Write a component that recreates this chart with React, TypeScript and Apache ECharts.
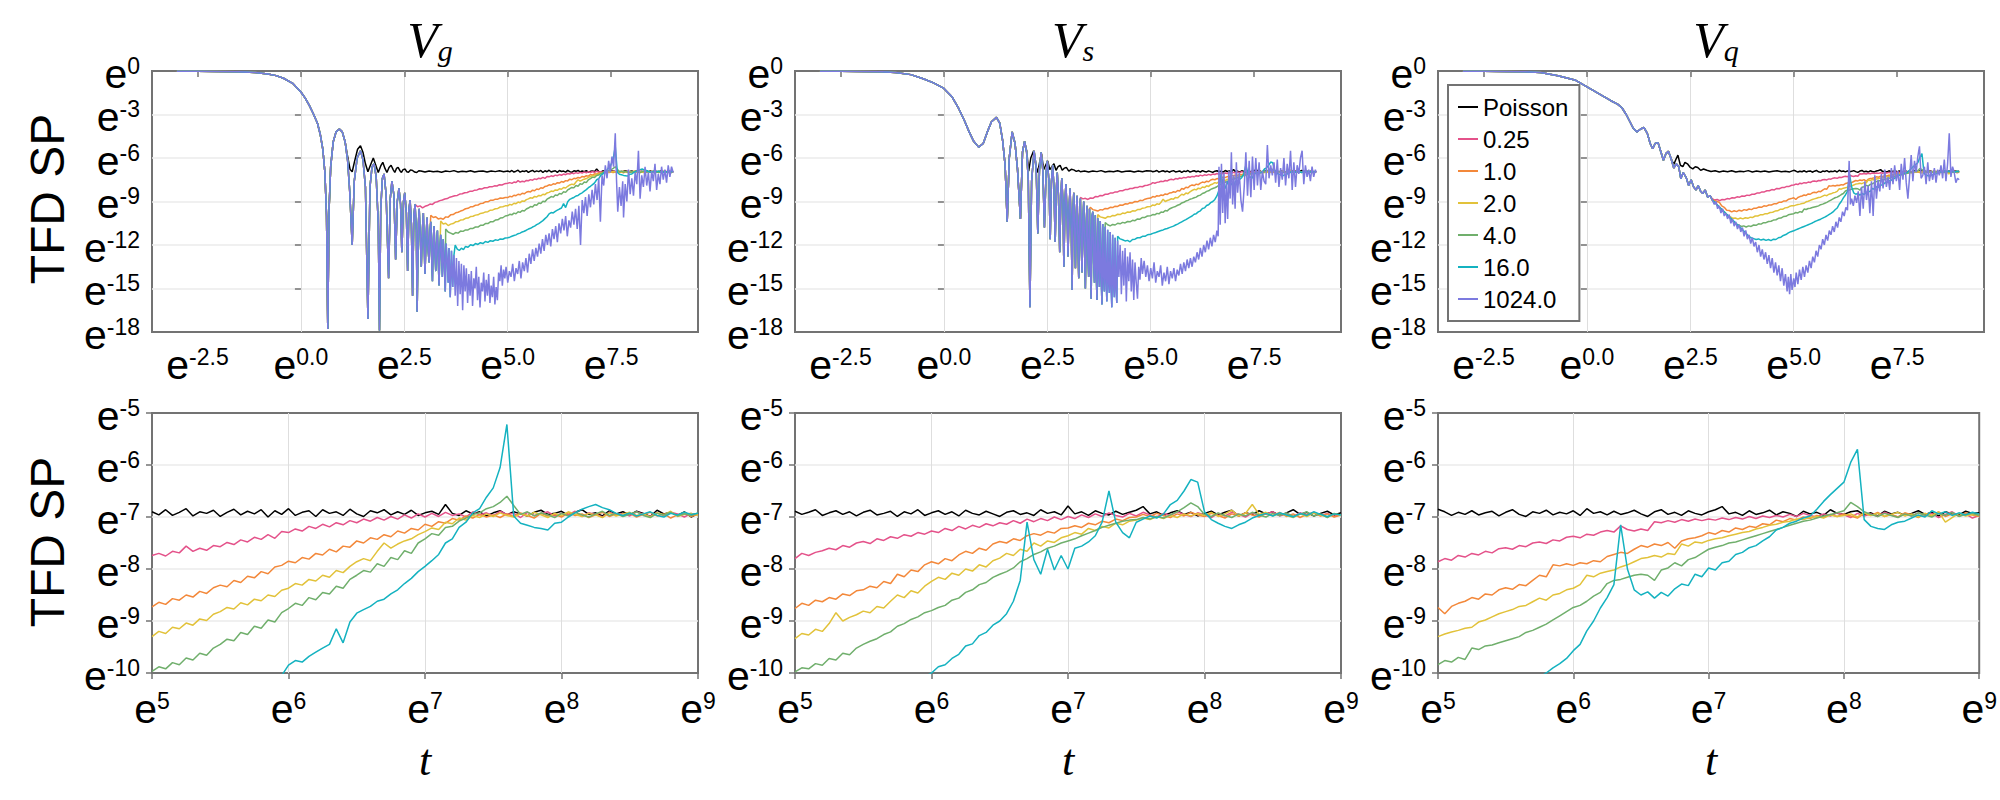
import React, { useEffect, useRef } from 'react';
import * as echarts from 'echarts';

const NAMES = ['Poisson', '0.25', '1.0', '2.0', '4.0', '16.0', '1024.0'];
const COLORS = ['#000000', '#E4528A', '#F3883A', '#E2C23A', '#70AF6C', '#14B2C0', '#7C7ADF'];
const TITLES = ['g', 's', 'q'];
const TOP_X_TICKS = [-2.5, 0, 2.5, 5, 7.5];

// shared x positions (ln t) of the zoomed bottom row
const XB = [5, 5.05, 5.1, 5.15, 5.2, 5.25, 5.3, 5.35, 5.4, 5.45,
  5.5, 5.55, 5.6, 5.65, 5.7, 5.75, 5.8, 5.85, 5.9, 5.95,
  6, 6.05, 6.1, 6.15, 6.2, 6.25, 6.3, 6.35, 6.4, 6.45,
  6.5, 6.55, 6.6, 6.65, 6.7, 6.75, 6.8, 6.85, 6.9, 6.95,
  7, 7.05, 7.1, 7.15, 7.2, 7.25, 7.3, 7.35, 7.4, 7.45,
  7.5, 7.55, 7.6, 7.65, 7.7, 7.75, 7.8, 7.85, 7.9, 7.95,
  8, 8.05, 8.1, 8.15, 8.2, 8.25, 8.3, 8.35, 8.4, 8.45,
  8.5, 8.55, 8.6, 8.65, 8.7, 8.75, 8.8, 8.85, 8.9, 8.95,
  9];

// ---------------- V_g, x >= 5 (ln TFD SP) ----------------
const gBlackB = [-6.90, -6.96, -6.86, -6.97, -6.91, -6.84, -6.98, -6.90, -6.93, -6.87,
  -6.99, -6.91, -6.85, -6.96, -6.89, -6.94, -6.86, -7.00, -6.88, -6.95,
  -6.84, -6.97, -6.91, -6.88, -6.99, -6.86, -6.93, -6.90, -6.97, -6.85,
  -6.94, -6.99, -6.88, -6.92, -6.86, -6.96, -6.90, -6.95, -6.87, -6.97,
  -6.92, -6.89, -6.95, -6.76, -6.93, -6.97, -6.88, -6.94, -6.90, -6.98,
  -6.92, -6.88, -6.96, -6.90, -6.94, -6.98, -6.91, -6.87, -6.95, -6.93,
  -6.89, -6.97, -6.91, -6.86, -6.95, -6.92, -6.98, -6.88, -6.94, -6.90,
  -6.96, -6.89, -6.93, -6.99, -6.87, -6.94, -6.91, -6.97, -6.90, -7.00,
  -6.93];
const gPinkB = [-7.74, -7.70, -7.75, -7.66, -7.69, -7.56, -7.66, -7.60, -7.64, -7.55,
  -7.57, -7.49, -7.53, -7.44, -7.48, -7.39, -7.43, -7.34, -7.41, -7.28,
  -7.30, -7.23, -7.27, -7.18, -7.22, -7.14, -7.19, -7.11, -7.15, -7.07,
  -7.11, -7.04, -7.08, -7.01, -7.06, -6.99, -7.04, -6.96, -7.02, -6.94,
  -7.00, -6.93, -6.99, -6.91, -6.97, -6.94, -7.00, -6.90, -6.96, -6.92,
  -6.98, -6.89, -6.95, -6.93, -7.01, -6.91, -6.97, -6.94, -6.90, -6.98,
  -6.93, -6.96, -6.89, -6.99, -6.92, -6.95, -7.00, -6.91, -6.96, -6.93,
  -6.98, -6.90, -6.95, -6.99, -6.92, -6.97, -6.91, -6.94, -7.00, -6.93,
  -6.96];
const gOrangeB = [-8.73, -8.64, -8.68, -8.57, -8.60, -8.50, -8.54, -8.43, -8.47, -8.36,
  -8.31, -8.34, -8.22, -8.26, -8.14, -8.17, -8.05, -8.09, -7.96, -7.93,
  -7.85, -7.88, -7.78, -7.81, -7.70, -7.73, -7.62, -7.67, -7.56, -7.58,
  -7.46, -7.50, -7.40, -7.43, -7.34, -7.38, -7.27, -7.31, -7.22, -7.25,
  -7.14, -7.18, -7.09, -7.12, -7.03, -7.06, -6.98, -7.02, -6.95, -7.00,
  -6.96, -7.01, -6.94, -6.99, -6.92, -6.97, -7.02, -6.93, -6.98, -6.95,
  -7.00, -6.92, -6.97, -6.94, -7.01, -6.96, -6.91, -6.99, -6.94, -6.98,
  -6.93, -7.00, -6.95, -6.91, -6.98, -6.94, -7.02, -6.96, -6.92, -6.99,
  -6.95];
const gYellowB = [-9.30, -9.20, -9.24, -9.12, -9.15, -9.04, -9.08, -8.96, -8.99, -8.87,
  -8.82, -8.74, -8.77, -8.65, -8.69, -8.58, -8.61, -8.50, -8.53, -8.41,
  -8.37, -8.28, -8.31, -8.20, -8.23, -8.12, -8.16, -8.03, -8.07, -7.95,
  -7.86, -7.80, -7.84, -7.66, -7.50, -7.60, -7.52, -7.46, -7.42, -7.34,
  -7.28, -7.21, -7.24, -7.10, -7.13, -7.02, -7.06, -6.97, -7.01, -6.94,
  -6.99, -6.92, -6.97, -7.00, -6.94, -6.98, -6.91, -6.96, -7.01, -6.93,
  -6.97, -6.90, -6.95, -6.99, -6.93, -6.96, -7.01, -6.92, -6.98, -6.94,
  -6.91, -6.97, -6.94, -7.00, -6.92, -6.96, -6.89, -6.99, -6.95, -6.93,
  -6.97];
const gGreenB = [-9.97, -9.88, -9.92, -9.80, -9.84, -9.71, -9.75, -9.62, -9.66, -9.52,
  -9.45, -9.35, -9.38, -9.22, -9.26, -9.10, -9.14, -8.98, -9.02, -8.84,
  -8.76, -8.66, -8.70, -8.55, -8.59, -8.45, -8.48, -8.33, -8.37, -8.20,
  -8.12, -8.03, -8.06, -7.90, -7.95, -7.78, -7.82, -7.65, -7.70, -7.50,
  -7.42, -7.32, -7.35, -7.20, -7.18, -7.08, -7.02, -6.95, -6.92, -6.84,
  -6.80, -6.72, -6.60, -6.78, -6.95, -6.90, -6.98, -6.92, -6.96, -7.01,
  -6.93, -6.98, -6.91, -6.96, -7.00, -6.94, -6.89, -6.97, -6.93, -6.99,
  -6.95, -6.90, -6.97, -7.01, -6.93, -6.96, -6.91, -6.98, -6.94, -6.97,
  -6.92];
const gCyanB = [-11.50, -11.46, -11.40, -11.35, -11.30, -11.22, -11.18, -11.10, -11.05, -10.98,
  -10.90, -10.85, -10.76, -10.70, -10.60, -10.52, -10.42, -10.32, -10.18, -10.05,
  -9.85, -9.76, -9.79, -9.68, -9.60, -9.52, -9.45, -9.15, -9.42, -9.02,
  -8.85, -8.78, -8.72, -8.62, -8.58, -8.48, -8.40, -8.28, -8.18, -8.05,
  -7.95, -7.84, -7.72, -7.50, -7.42, -7.20, -7.10, -6.92, -6.84, -6.62,
  -6.44, -6.05, -5.22, -6.98, -7.12, -7.16, -7.20, -7.22, -7.25, -7.12,
  -7.10, -7.00, -6.92, -6.85, -6.80, -6.76, -6.82, -6.86, -6.93, -6.97,
  -6.92, -6.98, -6.94, -6.90, -6.97, -7.00, -6.93, -6.96, -6.91, -6.95,
  -6.93];

// ---------------- V_s, x >= 5 ----------------
const sBlackB = [-6.89, -6.95, -6.91, -6.86, -6.97, -6.92, -6.88, -6.95, -6.90, -6.98,
  -6.91, -6.87, -6.96, -6.93, -6.89, -6.99, -6.90, -6.94, -6.86, -6.97,
  -6.92, -6.88, -6.95, -6.90, -6.98, -6.87, -6.93, -6.96, -6.89, -6.94,
  -6.99, -6.91, -6.88, -6.95, -6.92, -6.97, -6.86, -6.93, -6.90, -6.96,
  -6.79, -6.94, -6.90, -6.97, -6.88, -6.93, -6.96, -6.89, -6.95, -6.91,
  -6.87, -6.80, -6.94, -6.90, -6.97, -6.92, -6.88, -6.95, -6.91, -6.98,
  -6.93, -6.89, -6.96, -6.91, -6.87, -6.98, -6.92, -6.95, -6.88, -6.94,
  -6.90, -6.97, -6.92, -6.86, -6.95, -6.91, -6.98, -6.93, -6.89, -6.96,
  -6.92];
const sPinkB = [-7.80, -7.70, -7.74, -7.68, -7.65, -7.60, -7.63, -7.55, -7.58, -7.50,
  -7.47, -7.51, -7.42, -7.45, -7.38, -7.41, -7.34, -7.37, -7.30, -7.33,
  -7.27, -7.30, -7.22, -7.26, -7.18, -7.23, -7.16, -7.20, -7.13, -7.17,
  -7.11, -7.14, -7.07, -7.12, -7.04, -7.09, -7.03, -7.07, -7.00, -7.05,
  -6.99, -7.03, -6.96, -7.01, -6.94, -6.99, -6.92, -6.97, -7.00, -6.93,
  -6.98, -6.91, -6.96, -7.00, -6.93, -6.97, -6.90, -6.95, -6.99, -6.92,
  -6.96, -7.01, -6.93, -6.98, -6.91, -6.95, -7.00, -6.92, -6.97, -6.94,
  -6.90, -6.98, -6.94, -6.99, -6.92, -6.96, -6.91, -6.97, -6.93, -6.99,
  -6.95];
const sOrangeB = [-8.76, -8.66, -8.70, -8.60, -8.63, -8.55, -8.58, -8.48, -8.51, -8.42,
  -8.40, -8.33, -8.36, -8.24, -8.28, -8.10, -8.15, -8.02, -8.05, -7.92,
  -7.86, -7.90, -7.80, -7.84, -7.73, -7.66, -7.70, -7.60, -7.64, -7.52,
  -7.47, -7.50, -7.42, -7.45, -7.36, -7.32, -7.35, -7.28, -7.31, -7.22,
  -7.21, -7.17, -7.20, -7.12, -7.15, -7.08, -7.11, -7.04, -7.07, -7.01,
  -7.00, -6.95, -6.99, -6.93, -6.97, -7.01, -6.94, -6.98, -6.91, -6.96,
  -6.99, -6.93, -6.97, -7.02, -6.94, -6.98, -6.92, -6.96, -7.00, -6.93,
  -6.97, -6.91, -6.99, -6.94, -7.01, -6.95, -6.92, -6.98, -6.94, -7.00,
  -6.96];
const sYellowB = [-9.34, -9.24, -9.27, -9.16, -9.20, -9.05, -8.84, -9.00, -8.93, -8.88,
  -8.81, -8.84, -8.72, -8.75, -8.62, -8.50, -8.55, -8.42, -8.46, -8.33,
  -8.24, -8.16, -8.20, -8.08, -8.12, -8.00, -8.04, -7.92, -7.96, -7.84,
  -7.79, -7.70, -7.74, -7.62, -7.66, -7.50, -7.56, -7.46, -7.49, -7.40,
  -7.36, -7.30, -7.33, -7.22, -7.26, -7.18, -7.21, -7.12, -7.15, -7.08,
  -7.06, -7.02, -7.05, -6.99, -7.03, -6.97, -7.01, -6.94, -6.98, -6.93,
  -6.97, -6.91, -6.99, -6.94, -6.87, -6.98, -6.93, -6.76, -6.95, -6.91,
  -6.98, -6.93, -6.97, -7.01, -6.94, -6.99, -6.92, -6.96, -7.00, -6.94,
  -6.97];
const sGreenB = [-9.98, -9.90, -9.92, -9.82, -9.85, -9.72, -9.75, -9.62, -9.65, -9.52,
  -9.45, -9.39, -9.34, -9.26, -9.21, -9.10, -9.05, -8.97, -8.92, -8.84,
  -8.80, -8.74, -8.70, -8.60, -8.56, -8.45, -8.40, -8.30, -8.26, -8.16,
  -8.10, -8.05, -7.98, -7.86, -7.80, -7.72, -7.67, -7.60, -7.56, -7.50,
  -7.46, -7.42, -7.36, -7.31, -7.26, -7.20, -7.16, -7.12, -7.08, -7.06,
  -7.05, -7.01, -7.04, -6.99, -7.02, -6.96, -6.90, -6.82, -6.73, -6.80,
  -6.95, -6.99, -6.92, -6.97, -7.01, -6.94, -6.98, -6.91, -6.96, -7.00,
  -6.93, -6.97, -6.92, -6.99, -6.95, -6.90, -6.98, -6.94, -7.01, -6.93,
  -6.96];
const sCyanB = [-11.26, -11.20, -11.16, -11.10, -11.05, -11.00, -10.96, -10.90, -10.86, -10.80,
  -10.75, -10.70, -10.62, -10.56, -10.48, -10.40, -10.32, -10.25, -10.16, -10.08,
  -10.00, -9.88, -9.84, -9.72, -9.64, -9.48, -9.44, -9.28, -9.22, -9.08,
  -9.00, -8.86, -8.62, -8.22, -7.10, -7.82, -8.10, -7.62, -8.02, -7.74,
  -8.00, -7.60, -7.56, -7.48, -7.36, -7.10, -6.50, -7.10, -7.30, -7.40,
  -7.10, -7.04, -6.98, -7.02, -6.94, -6.76, -6.68, -6.50, -6.28, -6.33,
  -6.90, -7.05, -7.12, -7.18, -7.22, -7.15, -7.10, -7.02, -6.97, -6.93,
  -6.98, -6.92, -6.96, -7.00, -6.93, -6.97, -6.90, -6.95, -6.99, -6.94,
  -6.96];

// ---------------- V_q, x >= 5 ----------------
const qBlackB = [-6.85, -6.90, -6.97, -6.91, -6.95, -6.88, -6.96, -6.92, -6.89, -6.98,
  -6.91, -6.86, -6.95, -6.99, -6.90, -6.93, -6.87, -6.96, -6.91, -6.94,
  -6.88, -6.97, -6.84, -6.93, -6.90, -6.96, -6.89, -6.95, -6.92, -6.87,
  -6.94, -6.99, -6.90, -6.86, -6.95, -6.91, -6.97, -6.88, -6.93, -6.96,
  -6.90, -6.86, -6.80, -6.94, -6.91, -6.97, -6.88, -6.95, -6.92, -6.87,
  -6.96, -6.90, -6.93, -6.99, -6.89, -6.94, -6.91, -6.97, -6.86, -6.93,
  -6.95, -6.90, -6.88, -6.96, -6.92, -6.98, -6.89, -6.94, -6.91, -6.97,
  -6.93, -6.88, -6.95, -6.91, -6.98, -6.90, -6.94, -6.96, -6.89, -6.93,
  -6.92];
const qPinkB = [-7.86, -7.80, -7.83, -7.74, -7.77, -7.70, -7.73, -7.66, -7.69, -7.61,
  -7.59, -7.62, -7.55, -7.57, -7.50, -7.48, -7.51, -7.44, -7.46, -7.39,
  -7.37, -7.40, -7.33, -7.35, -7.29, -7.26, -7.29, -7.17, -7.24, -7.27,
  -7.23, -7.26, -7.09, -7.11, -7.07, -7.10, -7.05, -7.08, -7.04, -7.07,
  -7.04, -7.06, -7.02, -7.05, -7.01, -7.04, -6.99, -7.03, -6.98, -7.01,
  -6.97, -7.00, -6.95, -6.99, -6.93, -6.97, -7.00, -6.94, -6.98, -6.92,
  -6.96, -7.01, -6.93, -6.98, -6.94, -6.99, -6.91, -6.96, -7.00, -6.94,
  -6.98, -6.92, -6.97, -6.93, -7.01, -6.95, -6.90, -6.98, -6.94, -7.02,
  -6.97];
const qOrangeB = [-8.74, -8.86, -8.72, -8.66, -8.62, -8.55, -8.58, -8.48, -8.50, -8.40,
  -8.36, -8.39, -8.30, -8.32, -8.22, -8.12, -8.15, -7.92, -7.94, -7.90,
  -7.93, -7.88, -7.90, -7.84, -7.86, -7.76, -7.72, -7.68, -7.70, -7.62,
  -7.55, -7.58, -7.52, -7.55, -7.49, -7.60, -7.46, -7.42, -7.40, -7.36,
  -7.30, -7.33, -7.26, -7.29, -7.21, -7.24, -7.18, -7.20, -7.13, -7.15,
  -7.06, -7.09, -7.03, -7.06, -7.00, -7.03, -6.97, -7.01, -6.95, -6.99,
  -6.94, -6.98, -7.02, -6.93, -6.97, -6.91, -6.99, -6.95, -7.00, -6.92,
  -6.96, -7.01, -6.93, -6.97, -6.90, -6.99, -6.94, -6.98, -6.92, -6.96,
  -6.99];
const qYellowB = [-9.30, -9.25, -9.21, -9.18, -9.14, -9.12, -9.02, -8.98, -8.92, -8.86,
  -8.82, -8.78, -8.72, -8.70, -8.63, -8.56, -8.60, -8.50, -8.47, -8.40,
  -8.37, -8.30, -8.12, -8.15, -8.08, -8.05, -8.02, -7.96, -7.92, -7.86,
  -7.80, -7.78, -7.74, -7.77, -7.70, -7.72, -7.52, -7.56, -7.48, -7.50,
  -7.45, -7.42, -7.40, -7.36, -7.33, -7.30, -7.28, -7.23, -7.20, -7.16,
  -7.14, -7.10, -7.08, -7.04, -7.05, -7.01, -6.99, -7.02, -6.96, -6.99,
  -6.97, -6.94, -7.00, -6.92, -6.97, -6.93, -6.99, -6.95, -6.91, -6.98,
  -6.94, -7.00, -6.93, -6.97, -6.90, -7.10, -7.01, -6.93, -6.98, -6.95,
  -6.96];
const qGreenB = [-9.84, -9.76, -9.79, -9.70, -9.74, -9.52, -9.55, -9.48, -9.46, -9.42,
  -9.38, -9.34, -9.30, -9.22, -9.18, -9.12, -9.06, -8.98, -8.90, -8.82,
  -8.74, -8.70, -8.62, -8.52, -8.45, -8.28, -8.22, -8.20, -8.16, -8.12,
  -8.10, -8.12, -8.22, -8.02, -7.98, -7.88, -7.94, -7.82, -7.78, -7.70,
  -7.62, -7.58, -7.55, -7.50, -7.48, -7.44, -7.40, -7.36, -7.32, -7.28,
  -7.24, -7.20, -7.16, -7.12, -7.08, -7.06, -7.02, -6.98, -6.95, -6.92,
  -6.88, -6.72, -6.80, -6.90, -6.95, -6.99, -6.93, -6.97, -7.01, -6.94,
  -6.98, -6.92, -6.96, -7.00, -6.93, -6.97, -6.91, -6.99, -6.95, -6.93,
  -6.97];
const qCyanB = [-11.02, -10.96, -10.90, -10.84, -10.78, -10.72, -10.66, -10.60, -10.54, -10.48,
  -10.40, -10.34, -10.28, -10.22, -10.15, -10.08, -10.00, -9.90, -9.82, -9.72,
  -9.57, -9.45, -9.19, -9.00, -8.75, -8.55, -8.30, -7.15, -8.00, -8.40,
  -8.50, -8.44, -8.56, -8.45, -8.52, -8.38, -8.29, -8.32, -8.10, -8.15,
  -7.98, -8.02, -7.88, -7.85, -7.72, -7.68, -7.59, -7.55, -7.46, -7.38,
  -7.25, -7.20, -7.12, -7.08, -7.02, -6.98, -6.85, -6.70, -6.57, -6.45,
  -6.33, -5.95, -5.70, -7.05, -7.18, -7.22, -7.24, -7.15, -7.10, -7.08,
  -7.02, -6.96, -7.00, -6.88, -6.94, -6.90, -6.97, -6.92, -6.96, -6.91,
  -6.94];

// ---------------- top row, x < 5 ----------------
const gPre = [[-3, -0.01], [-2.5, -0.02], [-2, -0.03], [-1.5, -0.06], [-1.1, -0.1], [-0.8, -0.2], [-0.6, -0.32],
  [-0.42, -0.5], [-0.2, -0.85], [0, -1.45], [0.1, -1.85], [0.2, -2.35], [0.3, -2.95], [0.4, -3.6], [0.47, -4.4],
  [0.53, -5.4], [0.58, -7.0], [0.62, -10.0], [0.65, -17.8], [0.68, -9.6], [0.72, -6.6], [0.78, -4.9], [0.85, -4.2],
  [0.93, -4.0], [1.0, -4.2], [1.07, -4.9]];
const gOsc = [[1.13, -6.2], [1.18, -8.3], [1.24, -12.0], [1.29, -7.6], [1.36, -6.0], [1.44, -5.5], [1.5, -6.1],
  [1.56, -8.0], [1.62, -17.1], [1.67, -8.0], [1.72, -6.6], [1.77, -6.4], [1.82, -7.3], [1.87, -10.5], [1.9, -17.9],
  [1.93, -9.5], [1.97, -7.4], [2.01, -7.1], [2.06, -8.5], [2.12, -14.3], [2.16, -8.8], [2.2, -7.6], [2.25, -8.6],
  [2.29, -13.0], [2.33, -9.0], [2.37, -8.1], [2.41, -9.2], [2.44, -12.5], [2.48, -9.0], [2.51, -8.4], [2.55, -9.8],
  [2.58, -13.8], [2.61, -9.6], [2.64, -8.9], [2.67, -10.5], [2.7, -15.5], [2.73, -10.0], [2.76, -9.2], [2.79, -11.0],
  [2.81, -16.6], [2.84, -10.5], [2.86, -9.5], [2.89, -11.8], [2.91, -13.5], [2.94, -10.8], [2.96, -9.8], [2.98, -12.0],
  [3.0, -14.0], [3.03, -11.2], [3.05, -10.1], [3.08, -12.5], [3.1, -13.2], [3.12, -11.0], [3.14, -10.4], [3.16, -12.8],
  [3.18, -14.5], [3.2, -11.6], [3.22, -10.7], [3.24, -12.5], [3.26, -13.8], [3.28, -11.9], [3.3, -11.0], [3.32, -13.0],
  [3.34, -14.8], [3.36, -12.2], [3.38, -11.3], [3.4, -12.8], [3.42, -14.2], [3.44, -11.6], [3.47, -13.5], [3.49, -15.2],
  [3.51, -11.9], [3.54, -13.2], [3.56, -14.6], [3.58, -12.2], [3.61, -15.6], [3.64, -12.4], [3.67, -14.9], [3.7, -12.7],
  [3.73, -15.5], [3.76, -12.9], [3.79, -16.2], [3.82, -13.1], [3.85, -15.4], [3.88, -13.3], [3.91, -16.5], [3.94, -13.4]];
const gBlackOsc = [[1.13, -5.9], [1.19, -6.8], [1.24, -6.95], [1.3, -6.2], [1.37, -5.4], [1.44, -5.15], [1.5, -5.6],
  [1.56, -6.4], [1.62, -6.95], [1.68, -6.5], [1.75, -6.0], [1.81, -6.5], [1.87, -7.0], [1.93, -6.55], [1.98, -6.3],
  [2.03, -6.7], [2.08, -7.0], [2.13, -6.65], [2.18, -6.5], [2.23, -6.8], [2.27, -7.0], [2.31, -6.72], [2.35, -6.65],
  [2.39, -6.86], [2.43, -7.0], [2.47, -6.8], [2.52, -6.76], [2.56, -6.95], [2.6, -6.98], [2.65, -6.82], [2.7, -6.86],
  [2.75, -6.97], [2.8, -7.0], [2.85, -6.88], [2.9, -6.9], [3.0, -6.97], [3.1, -6.89], [3.2, -6.95], [3.3, -6.91],
  [3.4, -6.98], [3.5, -6.9], [3.6, -6.94], [3.7, -6.87], [3.8, -6.96], [3.9, -6.91], [4.0, -6.95], [4.1, -6.88],
  [4.2, -6.97], [4.3, -6.92], [4.4, -6.89], [4.5, -6.96], [4.6, -6.9], [4.7, -6.94], [4.8, -6.88], [4.9, -6.95]];
const gPinkT = [[2.76, -9.2], [2.82, -9.36], [2.88, -9.3], [2.94, -9.44], [3.0, -9.33], [3.06, -9.28], [3.12, -9.18],
  [3.18, -9.2], [3.24, -9.06], [3.3, -9.02], [3.36, -8.94], [3.42, -8.9], [3.48, -8.83], [3.54, -8.8], [3.6, -8.7],
  [3.66, -8.66], [3.72, -8.6], [3.78, -8.58], [3.84, -8.49], [3.9, -8.47], [3.96, -8.4], [4.02, -8.38], [4.08, -8.3],
  [4.14, -8.3], [4.2, -8.22], [4.26, -8.2], [4.32, -8.12], [4.38, -8.13], [4.44, -8.05], [4.5, -8.06], [4.56, -7.98],
  [4.62, -7.99], [4.68, -7.92], [4.74, -7.93], [4.8, -7.84], [4.86, -7.86], [4.92, -7.78]];
const gOrangeT = [[3.14, -9.95], [3.2, -10.1], [3.26, -10.05], [3.32, -10.2], [3.38, -10.16], [3.44, -10.22], [3.5, -10.06],
  [3.56, -10.08], [3.62, -9.92], [3.68, -9.9], [3.74, -9.78], [3.8, -9.74], [3.86, -9.66], [3.92, -9.6], [3.98, -9.5],
  [4.04, -9.47], [4.1, -9.37], [4.16, -9.36], [4.22, -9.26], [4.28, -9.24], [4.34, -9.14], [4.4, -9.12], [4.46, -9.02],
  [4.52, -9.02], [4.58, -8.92], [4.64, -8.92], [4.7, -8.84], [4.76, -8.84], [4.82, -8.76], [4.88, -8.78], [4.94, -8.72]];
const gYellowT = [[3.38, -10.35], [3.44, -10.55], [3.5, -10.5], [3.56, -10.66], [3.62, -10.56], [3.68, -10.52], [3.74, -10.4],
  [3.8, -10.38], [3.86, -10.28], [3.92, -10.26], [3.98, -10.16], [4.04, -10.14], [4.1, -10.04], [4.16, -10.02], [4.22, -9.94],
  [4.28, -9.92], [4.34, -9.82], [4.4, -9.8], [4.46, -9.72], [4.52, -9.7], [4.58, -9.6], [4.64, -9.58], [4.7, -9.5],
  [4.76, -9.48], [4.82, -9.38], [4.88, -9.36], [4.94, -9.3]];
const gGreenT = [[3.5, -10.9], [3.56, -11.1], [3.62, -11.18], [3.68, -11.26], [3.74, -11.14], [3.8, -11.18], [3.86, -11.04],
  [3.92, -11.06], [3.98, -10.96], [4.04, -10.96], [4.1, -10.86], [4.16, -10.86], [4.22, -10.76], [4.28, -10.76], [4.34, -10.64],
  [4.4, -10.64], [4.46, -10.52], [4.52, -10.52], [4.58, -10.4], [4.64, -10.4], [4.7, -10.28], [4.76, -10.26], [4.82, -10.14],
  [4.88, -10.12], [4.94, -10.0]];
const gCyanT = [[3.73, -12.0], [3.78, -12.28], [3.83, -12.38], [3.88, -12.22], [3.93, -12.32], [3.98, -12.1], [4.04, -12.16],
  [4.1, -11.98], [4.16, -12.04], [4.22, -11.9], [4.28, -11.96], [4.34, -11.84], [4.4, -11.9], [4.46, -11.76], [4.52, -11.82],
  [4.58, -11.7], [4.64, -11.74], [4.7, -11.64], [4.76, -11.68], [4.82, -11.58], [4.88, -11.6], [4.94, -11.52]];
const gPurpleT = [[3.97, -15.2], [4.0, -13.6], [4.03, -16.0], [4.06, -14.0], [4.09, -15.5], [4.12, -13.8], [4.15, -16.2],
  [4.18, -14.3], [4.21, -15.0], [4.24, -13.5], [4.27, -15.8], [4.3, -14.2], [4.33, -16.3], [4.36, -14.6], [4.39, -15.2],
  [4.42, -13.9], [4.45, -15.9], [4.48, -14.4], [4.51, -15.5], [4.54, -14.0], [4.57, -16.0], [4.6, -14.8], [4.63, -15.6],
  [4.66, -14.2], [4.69, -16.1], [4.72, -14.9], [4.75, -15.8], [4.78, -13.9], [4.81, -14.5], [4.84, -13.4], [4.87, -14.8],
  [4.9, -13.7], [4.93, -14.3], [4.96, -13.5], [5.0, -14.6], [5.04, -13.8], [5.08, -14.2], [5.12, -13.3], [5.16, -14.5],
  [5.2, -13.6], [5.24, -14.0], [5.28, -13.1], [5.32, -14.3], [5.36, -13.2], [5.4, -13.8], [5.44, -12.9], [5.48, -13.9],
  [5.52, -12.6], [5.56, -13.3], [5.6, -12.3], [5.64, -13.1], [5.68, -12.2], [5.72, -12.8], [5.76, -11.9], [5.8, -12.6],
  [5.84, -11.6], [5.88, -12.4], [5.92, -11.3], [5.96, -12.0], [6.0, -11.2], [6.04, -12.1], [6.08, -10.9], [6.12, -11.6],
  [6.16, -10.7], [6.2, -11.8], [6.24, -10.5], [6.28, -11.2], [6.32, -10.2], [6.36, -11.0], [6.4, -10.0], [6.44, -11.4],
  [6.48, -10.3], [6.52, -10.8], [6.56, -9.7], [6.6, -10.6], [6.64, -9.5], [6.68, -10.9], [6.72, -9.3], [6.76, -12.0],
  [6.8, -8.9], [6.84, -9.8], [6.88, -8.7], [6.92, -10.0], [6.96, -8.5], [7.0, -9.4], [7.04, -8.2], [7.08, -9.2],
  [7.12, -7.8], [7.16, -8.9], [7.2, -7.4], [7.24, -10.4], [7.28, -7.2], [7.32, -7.9], [7.36, -6.5], [7.4, -7.4],
  [7.44, -6.2], [7.48, -7.0], [7.52, -5.9], [7.56, -6.6], [7.6, -4.3], [7.63, -7.5], [7.66, -9.7], [7.7, -8.0],
  [7.74, -9.3], [7.78, -7.6], [7.8, -10.1], [7.84, -7.8], [7.88, -9.0], [7.92, -6.8], [7.96, -8.5], [8.0, -7.4],
  [8.04, -8.6], [8.08, -7.0], [8.12, -7.8], [8.16, -5.5], [8.2, -8.8], [8.24, -7.2], [8.28, -8.0], [8.32, -6.6],
  [8.36, -7.9], [8.4, -7.0], [8.44, -8.3], [8.48, -6.9], [8.52, -7.6], [8.56, -6.4], [8.6, -8.2], [8.64, -7.1],
  [8.68, -7.8], [8.72, -6.6], [8.76, -7.5], [8.8, -6.8], [8.84, -7.7], [8.88, -6.5], [8.92, -7.3], [8.96, -6.6], [9.0, -7.0]];

const sPre = [[-3, -0.01], [-2.5, -0.02], [-2, -0.03], [-1.5, -0.06], [-1.17, -0.1], [-0.8, -0.25], [-0.5, -0.53],
  [-0.25, -0.82], [0, -1.2], [0.2, -1.8], [0.36, -2.6], [0.5, -3.45], [0.61, -4.2], [0.72, -4.85], [0.84, -5.25],
  [0.95, -5.0], [1.05, -4.2], [1.15, -3.5], [1.27, -3.2], [1.35, -3.6], [1.42, -4.8], [1.48, -6.5], [1.53, -10.4],
  [1.58, -6.0], [1.65, -4.2], [1.72, -5.0], [1.78, -6.8], [1.85, -10.2], [1.9, -5.6], [1.95, -4.85]];
const sOsc = [[2.0, -5.6], [2.04, -7.5], [2.08, -16.3], [2.12, -7.6], [2.18, -5.5], [2.23, -6.6], [2.27, -11.2],
  [2.31, -6.8], [2.35, -5.6], [2.39, -6.8], [2.43, -10.8], [2.47, -7.0], [2.5, -6.2], [2.54, -7.6], [2.57, -11.6],
  [2.6, -7.6], [2.63, -6.5], [2.66, -8.0], [2.69, -11.8], [2.72, -8.0], [2.74, -7.0], [2.77, -8.6], [2.8, -12.5],
  [2.83, -8.4], [2.85, -7.4], [2.88, -9.2], [2.9, -13.5], [2.93, -8.8], [2.95, -7.8], [2.98, -10.0], [3.0, -12.8],
  [3.03, -9.2], [3.05, -8.1], [3.08, -11.0], [3.1, -15.1], [3.12, -9.5], [3.14, -8.4], [3.16, -11.2], [3.18, -13.6],
  [3.2, -9.8], [3.22, -8.6], [3.24, -11.8], [3.26, -14.3], [3.28, -10.0], [3.3, -8.8], [3.32, -12.0], [3.34, -13.9],
  [3.36, -10.2], [3.38, -9.0], [3.4, -12.2], [3.42, -15.0], [3.44, -10.5], [3.46, -9.3], [3.48, -12.5], [3.5, -14.2],
  [3.52, -9.5], [3.54, -12.8], [3.56, -15.7], [3.58, -10.0], [3.6, -9.7], [3.62, -13.2], [3.64, -14.6], [3.66, -9.95],
  [3.68, -13.5], [3.7, -15.8], [3.72, -10.15], [3.74, -13.4], [3.76, -14.9], [3.78, -10.35], [3.8, -13.8], [3.82, -16.1],
  [3.84, -10.55], [3.86, -14.0], [3.88, -15.2], [3.9, -10.75], [3.92, -14.3], [3.94, -15.9], [3.96, -10.95], [3.98, -14.5],
  [4.0, -15.3], [4.02, -11.1], [4.04, -14.8], [4.06, -16.3], [4.08, -11.3], [4.1, -14.6], [4.12, -15.6], [4.14, -11.5],
  [4.16, -14.9], [4.18, -16.0], [4.2, -11.7]];
const sBlackOsc = [[2.0, -5.5], [2.05, -6.9], [2.1, -6.0], [2.17, -5.5], [2.22, -6.5], [2.27, -7.0], [2.32, -6.2],
  [2.36, -5.7], [2.41, -6.8], [2.46, -6.5], [2.51, -6.2], [2.56, -6.8], [2.61, -6.6], [2.66, -6.4], [2.71, -6.85],
  [2.76, -6.6], [2.81, -6.5], [2.86, -6.85], [2.91, -6.7], [2.96, -6.65], [3.02, -6.9], [3.08, -6.78], [3.14, -6.82],
  [3.2, -6.92], [3.26, -6.86], [3.3, -6.95], [3.4, -6.89], [3.5, -6.96], [3.6, -6.9], [3.7, -6.94], [3.8, -6.87],
  [3.9, -6.97], [4.0, -6.91], [4.1, -6.95], [4.2, -6.88], [4.3, -6.96], [4.4, -6.92], [4.5, -6.89], [4.6, -6.97],
  [4.7, -6.9], [4.8, -6.95], [4.9, -6.88]];
const sPinkT = [[3.3, -8.72], [3.36, -8.82], [3.42, -8.78], [3.48, -8.86], [3.54, -8.76], [3.6, -8.78], [3.66, -8.66],
  [3.72, -8.68], [3.78, -8.58], [3.84, -8.6], [3.9, -8.5], [3.96, -8.5], [4.02, -8.42], [4.08, -8.42], [4.14, -8.34],
  [4.2, -8.34], [4.26, -8.25], [4.32, -8.26], [4.38, -8.18], [4.44, -8.18], [4.5, -8.1], [4.56, -8.1], [4.62, -8.03],
  [4.68, -8.04], [4.74, -7.96], [4.8, -7.98], [4.86, -7.9], [4.92, -7.88]];
const sOrangeT = [[3.54, -9.4], [3.6, -9.56], [3.66, -9.6], [3.72, -9.66], [3.78, -9.56], [3.84, -9.58], [3.9, -9.48],
  [3.96, -9.5], [4.02, -9.4], [4.08, -9.42], [4.14, -9.32], [4.2, -9.34], [4.26, -9.24], [4.32, -9.26], [4.38, -9.16],
  [4.44, -9.18], [4.5, -9.08], [4.56, -9.1], [4.62, -9.0], [4.68, -9.02], [4.74, -8.92], [4.8, -8.94], [4.86, -8.84],
  [4.92, -8.8]];
const sYellowT = [[3.72, -9.9], [3.78, -10.06], [3.84, -10.1], [3.9, -10.16], [3.96, -10.04], [4.02, -10.06], [4.08, -9.96],
  [4.14, -9.98], [4.2, -9.88], [4.26, -9.9], [4.32, -9.8], [4.38, -9.82], [4.44, -9.72], [4.5, -9.74], [4.56, -9.64],
  [4.62, -9.66], [4.68, -9.56], [4.74, -9.56], [4.8, -9.46], [4.86, -9.44], [4.92, -9.36]];
const sGreenT = [[3.9, -10.45], [3.96, -10.6], [4.02, -10.68], [4.08, -10.58], [4.14, -10.62], [4.2, -10.5], [4.26, -10.54],
  [4.32, -10.44], [4.38, -10.48], [4.44, -10.38], [4.5, -10.4], [4.56, -10.3], [4.62, -10.32], [4.68, -10.2],
  [4.74, -10.22], [4.8, -10.1], [4.86, -10.1], [4.92, -10.0]];
const sCyanT = [[4.2, -11.4], [4.26, -11.58], [4.32, -11.64], [4.38, -11.72], [4.44, -11.68], [4.5, -11.78], [4.56, -11.62],
  [4.62, -11.6], [4.68, -11.5], [4.74, -11.5], [4.8, -11.4], [4.86, -11.4], [4.92, -11.3]];
const sPurpleT = [[4.23, -14.2], [4.26, -12.0], [4.29, -15.4], [4.32, -12.4], [4.35, -14.8], [4.38, -12.2], [4.41, -15.9],
  [4.44, -12.8], [4.47, -14.5], [4.5, -12.5], [4.53, -15.2], [4.56, -13.0], [4.59, -15.8], [4.62, -13.2], [4.65, -14.6],
  [4.68, -15.7], [4.71, -13.5], [4.74, -14.4], [4.77, -12.9], [4.8, -14.0], [4.84, -13.1], [4.88, -14.2], [4.92, -13.4],
  [4.96, -14.5], [5.0, -13.6], [5.04, -14.3], [5.08, -13.2], [5.12, -14.6], [5.16, -13.8], [5.2, -14.2], [5.24, -13.4],
  [5.28, -14.8], [5.32, -13.9], [5.36, -14.5], [5.4, -13.5], [5.44, -14.7], [5.48, -13.8], [5.52, -14.3], [5.56, -13.6],
  [5.6, -14.5], [5.64, -13.7], [5.68, -14.1], [5.72, -13.3], [5.76, -14.0], [5.8, -13.2], [5.84, -13.8], [5.88, -13.0],
  [5.92, -13.6], [5.96, -12.9], [6.0, -13.5], [6.04, -12.8], [6.08, -13.2], [6.12, -12.5], [6.16, -13.0], [6.2, -12.2],
  [6.24, -12.8], [6.28, -12.0], [6.32, -12.5], [6.36, -11.7], [6.4, -12.3], [6.44, -11.5], [6.48, -12.1], [6.52, -11.3],
  [6.56, -11.8], [6.6, -11.0], [6.63, -11.4], [6.65, -6.6], [6.68, -10.6], [6.71, -6.4], [6.74, -9.8], [6.77, -7.0],
  [6.8, -10.5], [6.83, -7.6], [6.86, -10.2], [6.89, -6.9], [6.92, -8.8], [6.95, -5.6], [6.98, -9.2], [7.01, -7.2],
  [7.04, -9.5], [7.07, -6.3], [7.1, -8.4], [7.14, -7.0], [7.18, -8.9], [7.22, -9.7], [7.26, -8.0], [7.3, -5.6],
  [7.34, -8.6], [7.38, -6.2], [7.42, -8.7], [7.46, -5.9], [7.5, -8.2], [7.54, -6.0], [7.58, -7.9], [7.62, -6.3],
  [7.66, -8.2], [7.7, -6.9], [7.74, -7.6], [7.78, -7.8], [7.82, -5.1], [7.86, -7.4], [7.9, -6.5], [7.94, -7.2],
  [7.98, -6.3], [8.02, -7.7], [8.06, -6.1], [8.1, -8.0], [8.14, -6.7], [8.18, -7.5], [8.22, -6.0], [8.26, -7.9],
  [8.3, -6.4], [8.34, -7.4], [8.38, -5.5], [8.42, -8.2], [8.46, -6.3], [8.5, -8.0], [8.54, -6.5], [8.58, -7.1],
  [8.62, -6.0], [8.66, -5.5], [8.7, -7.8], [8.74, -6.5], [8.78, -7.3], [8.82, -6.8], [8.86, -7.6], [8.9, -6.6],
  [8.94, -7.3], [8.98, -6.8], [9.0, -7.0]];

const qPre = [[-3, -0.01], [-2.5, -0.02], [-2, -0.03], [-1.5, -0.06], [-1.12, -0.1], [-0.7, -0.33], [-0.27, -0.64],
  [0.15, -1.33], [0.4, -1.75], [0.58, -2.05], [0.75, -2.3], [0.85, -2.55], [0.95, -3.0], [1.04, -3.5], [1.12, -3.95],
  [1.21, -4.2], [1.3, -4.0], [1.38, -3.9], [1.46, -4.3], [1.53, -5.0], [1.59, -5.36], [1.65, -5.0], [1.72, -4.94],
  [1.78, -5.5], [1.85, -6.16], [1.91, -5.7], [1.97, -5.54], [2.03, -6.0]];
const qOsc = [[2.1, -6.7], [2.16, -6.4], [2.22, -6.6], [2.27, -7.43], [2.33, -7.0], [2.4, -7.35], [2.46, -7.9],
  [2.52, -7.5], [2.58, -8.0], [2.64, -8.2], [2.69, -7.9], [2.75, -8.3], [2.8, -8.45], [2.86, -8.2], [2.92, -8.7],
  [2.98, -8.6], [3.03, -8.9]];
const qBlackOsc = [[2.1, -6.45], [2.15, -6.1], [2.2, -5.8], [2.26, -6.5], [2.32, -6.6], [2.37, -6.3], [2.43, -6.4],
  [2.5, -6.65], [2.56, -6.75], [2.62, -6.6], [2.68, -6.66], [2.75, -6.85], [2.82, -6.76], [2.9, -6.84], [3.0, -6.93],
  [3.1, -6.88], [3.2, -6.96], [3.3, -6.9], [3.4, -6.95], [3.5, -6.88], [3.6, -6.97], [3.7, -6.91], [3.8, -6.94],
  [3.9, -6.87], [4.0, -6.96], [4.1, -6.9], [4.2, -6.95], [4.3, -6.89], [4.4, -6.97], [4.5, -6.92], [4.6, -6.88],
  [4.7, -6.95], [4.8, -6.91], [4.9, -6.96]];
const qPinkT = [[3.03, -8.8], [3.09, -8.9], [3.15, -8.86], [3.21, -8.94], [3.27, -8.86], [3.33, -8.88], [3.39, -8.8],
  [3.45, -8.82], [3.51, -8.74], [3.57, -8.76], [3.63, -8.68], [3.69, -8.7], [3.75, -8.62], [3.81, -8.64], [3.87, -8.56],
  [3.93, -8.58], [3.99, -8.5], [4.05, -8.5], [4.11, -8.42], [4.17, -8.42], [4.23, -8.34], [4.29, -8.34], [4.35, -8.26],
  [4.41, -8.26], [4.47, -8.18], [4.53, -8.2], [4.59, -8.1], [4.65, -8.12], [4.71, -8.04], [4.77, -8.04], [4.83, -7.96],
  [4.89, -7.96], [4.95, -7.88]];
const qOrangeT = [[3.2, -9.05], [3.26, -9.3], [3.32, -9.4], [3.38, -9.6], [3.44, -9.62], [3.5, -9.72], [3.56, -9.64],
  [3.62, -9.7], [3.68, -9.6], [3.74, -9.66], [3.8, -9.56], [3.86, -9.6], [3.92, -9.52], [3.98, -9.56], [4.04, -9.46],
  [4.1, -9.46], [4.16, -9.38], [4.22, -9.4], [4.28, -9.3], [4.34, -9.32], [4.4, -9.24], [4.46, -9.24], [4.52, -9.16],
  [4.58, -9.16], [4.64, -9.06], [4.7, -9.06], [4.76, -8.96], [4.82, -8.96], [4.88, -8.84], [4.94, -8.8]];
const qYellowT = [[3.35, -9.8], [3.41, -10.0], [3.47, -10.06], [3.53, -10.16], [3.59, -10.14], [3.65, -10.22], [3.71, -10.14],
  [3.77, -10.2], [3.83, -10.12], [3.89, -10.16], [3.95, -10.08], [4.01, -10.1], [4.07, -10.0], [4.13, -10.0],
  [4.19, -9.92], [4.25, -9.92], [4.31, -9.84], [4.37, -9.84], [4.43, -9.76], [4.49, -9.74], [4.55, -9.66],
  [4.61, -9.64], [4.67, -9.54], [4.73, -9.54], [4.79, -9.44], [4.85, -9.42], [4.91, -9.32], [4.95, -9.3]];
const qGreenT = [[3.55, -10.4], [3.61, -10.56], [3.67, -10.62], [3.73, -10.72], [3.79, -10.68], [3.85, -10.76], [3.91, -10.68],
  [3.97, -10.72], [4.03, -10.62], [4.09, -10.64], [4.15, -10.54], [4.21, -10.56], [4.27, -10.46], [4.33, -10.46],
  [4.39, -10.38], [4.45, -10.36], [4.51, -10.28], [4.57, -10.26], [4.63, -10.16], [4.69, -10.14], [4.75, -10.04],
  [4.81, -10.02], [4.87, -9.92], [4.93, -9.88]];
const qCyanT = [[3.85, -11.2], [3.91, -11.4], [3.97, -11.5], [4.03, -11.56], [4.09, -11.62], [4.15, -11.58], [4.21, -11.66],
  [4.27, -11.6], [4.33, -11.68], [4.39, -11.62], [4.45, -11.7], [4.51, -11.6], [4.57, -11.62], [4.63, -11.5],
  [4.69, -11.46], [4.75, -11.34], [4.81, -11.28], [4.87, -11.16], [4.93, -11.08]];
const qPurpleT = [[3.08, -9.2], [3.12, -9.0], [3.16, -9.5], [3.2, -9.3], [3.24, -9.8], [3.28, -9.5], [3.32, -10.0],
  [3.36, -9.8], [3.4, -10.2], [3.44, -9.9], [3.48, -10.5], [3.52, -10.2], [3.56, -10.7], [3.6, -10.4], [3.64, -10.9],
  [3.68, -10.6], [3.72, -11.1], [3.76, -10.8], [3.8, -11.4], [3.84, -11.0], [3.88, -11.6], [3.92, -11.3], [3.96, -11.9],
  [4.0, -11.5], [4.04, -12.1], [4.08, -11.8], [4.12, -12.5], [4.16, -12.0], [4.2, -12.8], [4.24, -12.3], [4.28, -13.0],
  [4.32, -12.5], [4.36, -13.3], [4.4, -12.7], [4.44, -13.6], [4.48, -12.9], [4.52, -13.9], [4.56, -13.2], [4.6, -14.1],
  [4.64, -13.4], [4.68, -14.5], [4.72, -13.6], [4.76, -14.8], [4.8, -14.0], [4.84, -15.2], [4.87, -14.2], [4.9, -15.4],
  [4.93, -14.0], [4.96, -15.1], [5.0, -14.3], [5.03, -14.9], [5.06, -13.9], [5.1, -14.7], [5.14, -13.7], [5.18, -14.4],
  [5.22, -13.5], [5.26, -14.2], [5.3, -13.4], [5.34, -13.9], [5.38, -13.1], [5.42, -13.6], [5.46, -12.8], [5.5, -13.2],
  [5.54, -12.4], [5.58, -12.8], [5.62, -12.0], [5.66, -12.3], [5.7, -11.6], [5.74, -12.0], [5.78, -11.3], [5.82, -11.7],
  [5.86, -11.0], [5.9, -11.3], [5.94, -10.7], [5.98, -11.1], [6.02, -10.4], [6.06, -10.8], [6.1, -10.1], [6.14, -10.4],
  [6.18, -9.7], [6.22, -10.0], [6.26, -9.4], [6.3, -9.6], [6.34, -6.2], [6.37, -9.2], [6.4, -8.8], [6.44, -9.3],
  [6.48, -8.6], [6.52, -9.1], [6.56, -8.3], [6.6, -10.0], [6.64, -8.0], [6.68, -9.5], [6.72, -7.6], [6.76, -8.9],
  [6.8, -7.9], [6.84, -9.8], [6.88, -7.6], [6.92, -10.0], [6.96, -7.2], [7.0, -8.8], [7.04, -7.5], [7.08, -8.3],
  [7.12, -7.1], [7.16, -8.1], [7.2, -6.8], [7.24, -8.0], [7.28, -7.3], [7.32, -8.2], [7.36, -6.7], [7.4, -7.8],
  [7.44, -6.5], [7.48, -7.6], [7.52, -6.9], [7.56, -8.2], [7.6, -6.4], [7.64, -7.5], [7.68, -6.0], [7.72, -7.7],
  [7.76, -8.8], [7.8, -7.3], [7.84, -5.8], [7.88, -7.6], [7.92, -6.2], [7.96, -7.0], [8.0, -5.9], [8.04, -5.2],
  [8.08, -7.4], [8.12, -7.2], [8.16, -6.6], [8.2, -7.8], [8.24, -6.3], [8.28, -7.6], [8.32, -6.9], [8.36, -7.5],
  [8.4, -6.7], [8.44, -7.7], [8.48, -6.8], [8.52, -7.2], [8.56, -6.5], [8.6, -7.4], [8.64, -6.1], [8.68, -7.6],
  [8.72, -6.4], [8.76, -4.3], [8.8, -7.3], [8.84, -6.6], [8.88, -7.0], [8.92, -7.7], [8.96, -7.4], [9.0, -7.5]];

const PANELS = [
  { pre: gPre, osc: gOsc, black: gBlackOsc, tails: [gPinkT, gOrangeT, gYellowT, gGreenT, gCyanT], purple: gPurpleT,
    bottom: [gBlackB, gPinkB, gOrangeB, gYellowB, gGreenB, gCyanB] },
  { pre: sPre, osc: sOsc, black: sBlackOsc, tails: [sPinkT, sOrangeT, sYellowT, sGreenT, sCyanT], purple: sPurpleT,
    bottom: [sBlackB, sPinkB, sOrangeB, sYellowB, sGreenB, sCyanB] },
  { pre: qPre, osc: qOsc, black: qBlackOsc, tails: [qPinkT, qOrangeT, qYellowT, qGreenT, qCyanT], purple: qPurpleT,
    bottom: [qBlackB, qPinkB, qOrangeB, qYellowB, qGreenB, qCyanB] },
];

// ---------------- layout ----------------
const LEFTS = [152, 795, 1438];
const GW = 546;
const ROWS = [{ top: 71, height: 261 }, { top: 413, height: 260 }];
const FRAME = '#737373';
const SANS = 'Liberation Sans, Arial, Helvetica, sans-serif';
const SERIF = 'Liberation Serif, Times New Roman, serif';

const richLabel = {
  b: { fontSize: 41, fontFamily: SANS, color: '#000', lineHeight: 44 },
  s: { fontSize: 23, fontFamily: SANS, color: '#000', lineHeight: 23, padding: [0, 0, 16, 0] },
};

function zipB(ys: number[]) {
  return XB.map((x, i) => [x, ys[i]]);
}

function buildOption() {
  const grid: any[] = [];
  const xAxis: any[] = [];
  const yAxis: any[] = [];
  const series: any[] = [];

  const ySplit = { show: true, showMinLine: false, showMaxLine: false, lineStyle: { color: '#ebebeb', width: 1.5 } };
  const xSplit = { show: true, showMinLine: false, showMaxLine: false, lineStyle: { color: '#dedede', width: 1 } };
  const yLabel = {
    margin: 12, rich: richLabel, showMinLabel: true, showMaxLabel: true, hideOverlap: false,
    padding: [5, 0, 0, 0],
    formatter: (v: number) => `{b|e}{s|${v}}`,
  };

  for (let r = 0; r < 2; r++) {
    for (let c = 0; c < 3; c++) {
      const idx = r * 3 + c;
      grid.push({
        left: LEFTS[c], top: ROWS[r].top, width: GW, height: ROWS[r].height,
        show: true, borderColor: FRAME, borderWidth: 2, backgroundColor: 'transparent', containLabel: false,
      });
      const common = {
        gridIndex: idx,
        type: 'value',
        axisLine: { show: false },
        axisTick: { show: true, inside: false, length: 6, lineStyle: { color: FRAME, width: 1.5 } },
      };
      if (r === 0) {
        xAxis.push({
          ...common, min: -3.6, max: 9.6,
          axisTick: { ...common.axisTick, customValues: TOP_X_TICKS },
          axisLabel: {
            customValues: TOP_X_TICKS, margin: 11, rich: richLabel,
            formatter: (v: number) => `{b|e}{s|${v.toFixed(1)}}`,
          },
          splitLine: xSplit,
        });
        yAxis.push({ ...common, min: -18, max: 0, interval: 3, axisLabel: yLabel, splitLine: ySplit });
      } else {
        xAxis.push({
          ...common, min: 5, max: 9, interval: 1,
          axisLabel: { margin: 14, rich: richLabel, showMinLabel: true, showMaxLabel: true, formatter: (v: number) => `{b|e}{s|${v}}` },
          splitLine: xSplit,
        });
        yAxis.push({ ...common, min: -10, max: -5, interval: 1, axisLabel: yLabel, splitLine: ySplit });
      }
    }
  }

  const mk = (name: string, color: string, idx: number, data: any[]) => ({
    type: 'line', name, color, xAxisIndex: idx, yAxisIndex: idx, data,
    showSymbol: false, symbol: 'none', clip: true, silent: true,
    lineStyle: { width: 1.5, color },
  });

  PANELS.forEach((p, c) => {
    series.push(mk(NAMES[0], COLORS[0], c, [...p.pre, ...p.black, ...zipB(p.bottom[0])]));
    for (let j = 1; j <= 5; j++) {
      const tail = p.tails[j - 1];
      const start = tail[0][0];
      series.push(mk(NAMES[j], COLORS[j], c,
        [...p.pre, ...p.osc.filter((pt) => pt[0] < start), ...tail, ...zipB(p.bottom[j])]));
    }
    series.push(mk(NAMES[6], COLORS[6], c, [...p.pre, ...p.osc, ...p.purple]));
  });
  PANELS.forEach((p, c) => {
    for (let j = 0; j <= 5; j++) {
      series.push(mk(NAMES[j], COLORS[j], 3 + c, zipB(p.bottom[j])));
    }
  });

  const graphics: any[] = [];
  for (let c = 0; c < 3; c++) {
    const cx = LEFTS[c] + GW / 2;
    graphics.push({
      type: 'text', x: cx + 5, y: 40, z: 10,
      style: {
        text: `{v|V}{s|${TITLES[c]}}`, align: 'center', verticalAlign: 'middle',
        rich: {
          v: { fontSize: 50, fontFamily: SERIF, fontStyle: 'italic', fill: '#000', lineHeight: 50 },
          s: { fontSize: 30, fontFamily: SERIF, fontStyle: 'italic', fill: '#000', lineHeight: 30, padding: [20, 0, 0, 0] },
        },
      },
    });
    graphics.push({
      type: 'text', x: cx, y: 760, z: 10,
      style: { text: 't', fontSize: 44, fontFamily: SERIF, fontStyle: 'italic', fill: '#000', align: 'center', verticalAlign: 'middle' },
    });
  }
  [199, 542].forEach((cy) => {
    graphics.push({
      type: 'text', x: 47, y: cy, rotation: Math.PI / 2, z: 10,
      style: { text: 'TFD SP', fontSize: 48, fontFamily: SANS, fill: '#000', align: 'center', verticalAlign: 'middle' },
    });
  });

  return {
    animation: false,
    backgroundColor: '#ffffff',
    grid, xAxis, yAxis, series,
    legend: {
      data: NAMES, orient: 'vertical', left: 1448, top: 85,
      padding: [10, 11, 10, 10], itemGap: 8, itemWidth: 20, itemHeight: 2, icon: 'rect',
      borderColor: FRAME, borderWidth: 2, backgroundColor: '#ffffff', selectedMode: false,
      textStyle: { fontFamily: SANS, fontSize: 24, color: '#000', lineHeight: 24 },
    },
    graphic: graphics,
  };
}

export default function App() {
  const ref = useRef<HTMLDivElement>(null);
  useEffect(() => {
    if (!ref.current) return;
    const chart = echarts.init(ref.current, null, { renderer: 'svg' });
    chart.setOption(buildOption() as any);
    return () => chart.dispose();
  }, []);
  return (
    <div
      ref={ref}
      style={{ position: 'absolute', left: 0, top: 0, width: 2000, height: 800, background: '#ffffff' }}
    />
  );
}
